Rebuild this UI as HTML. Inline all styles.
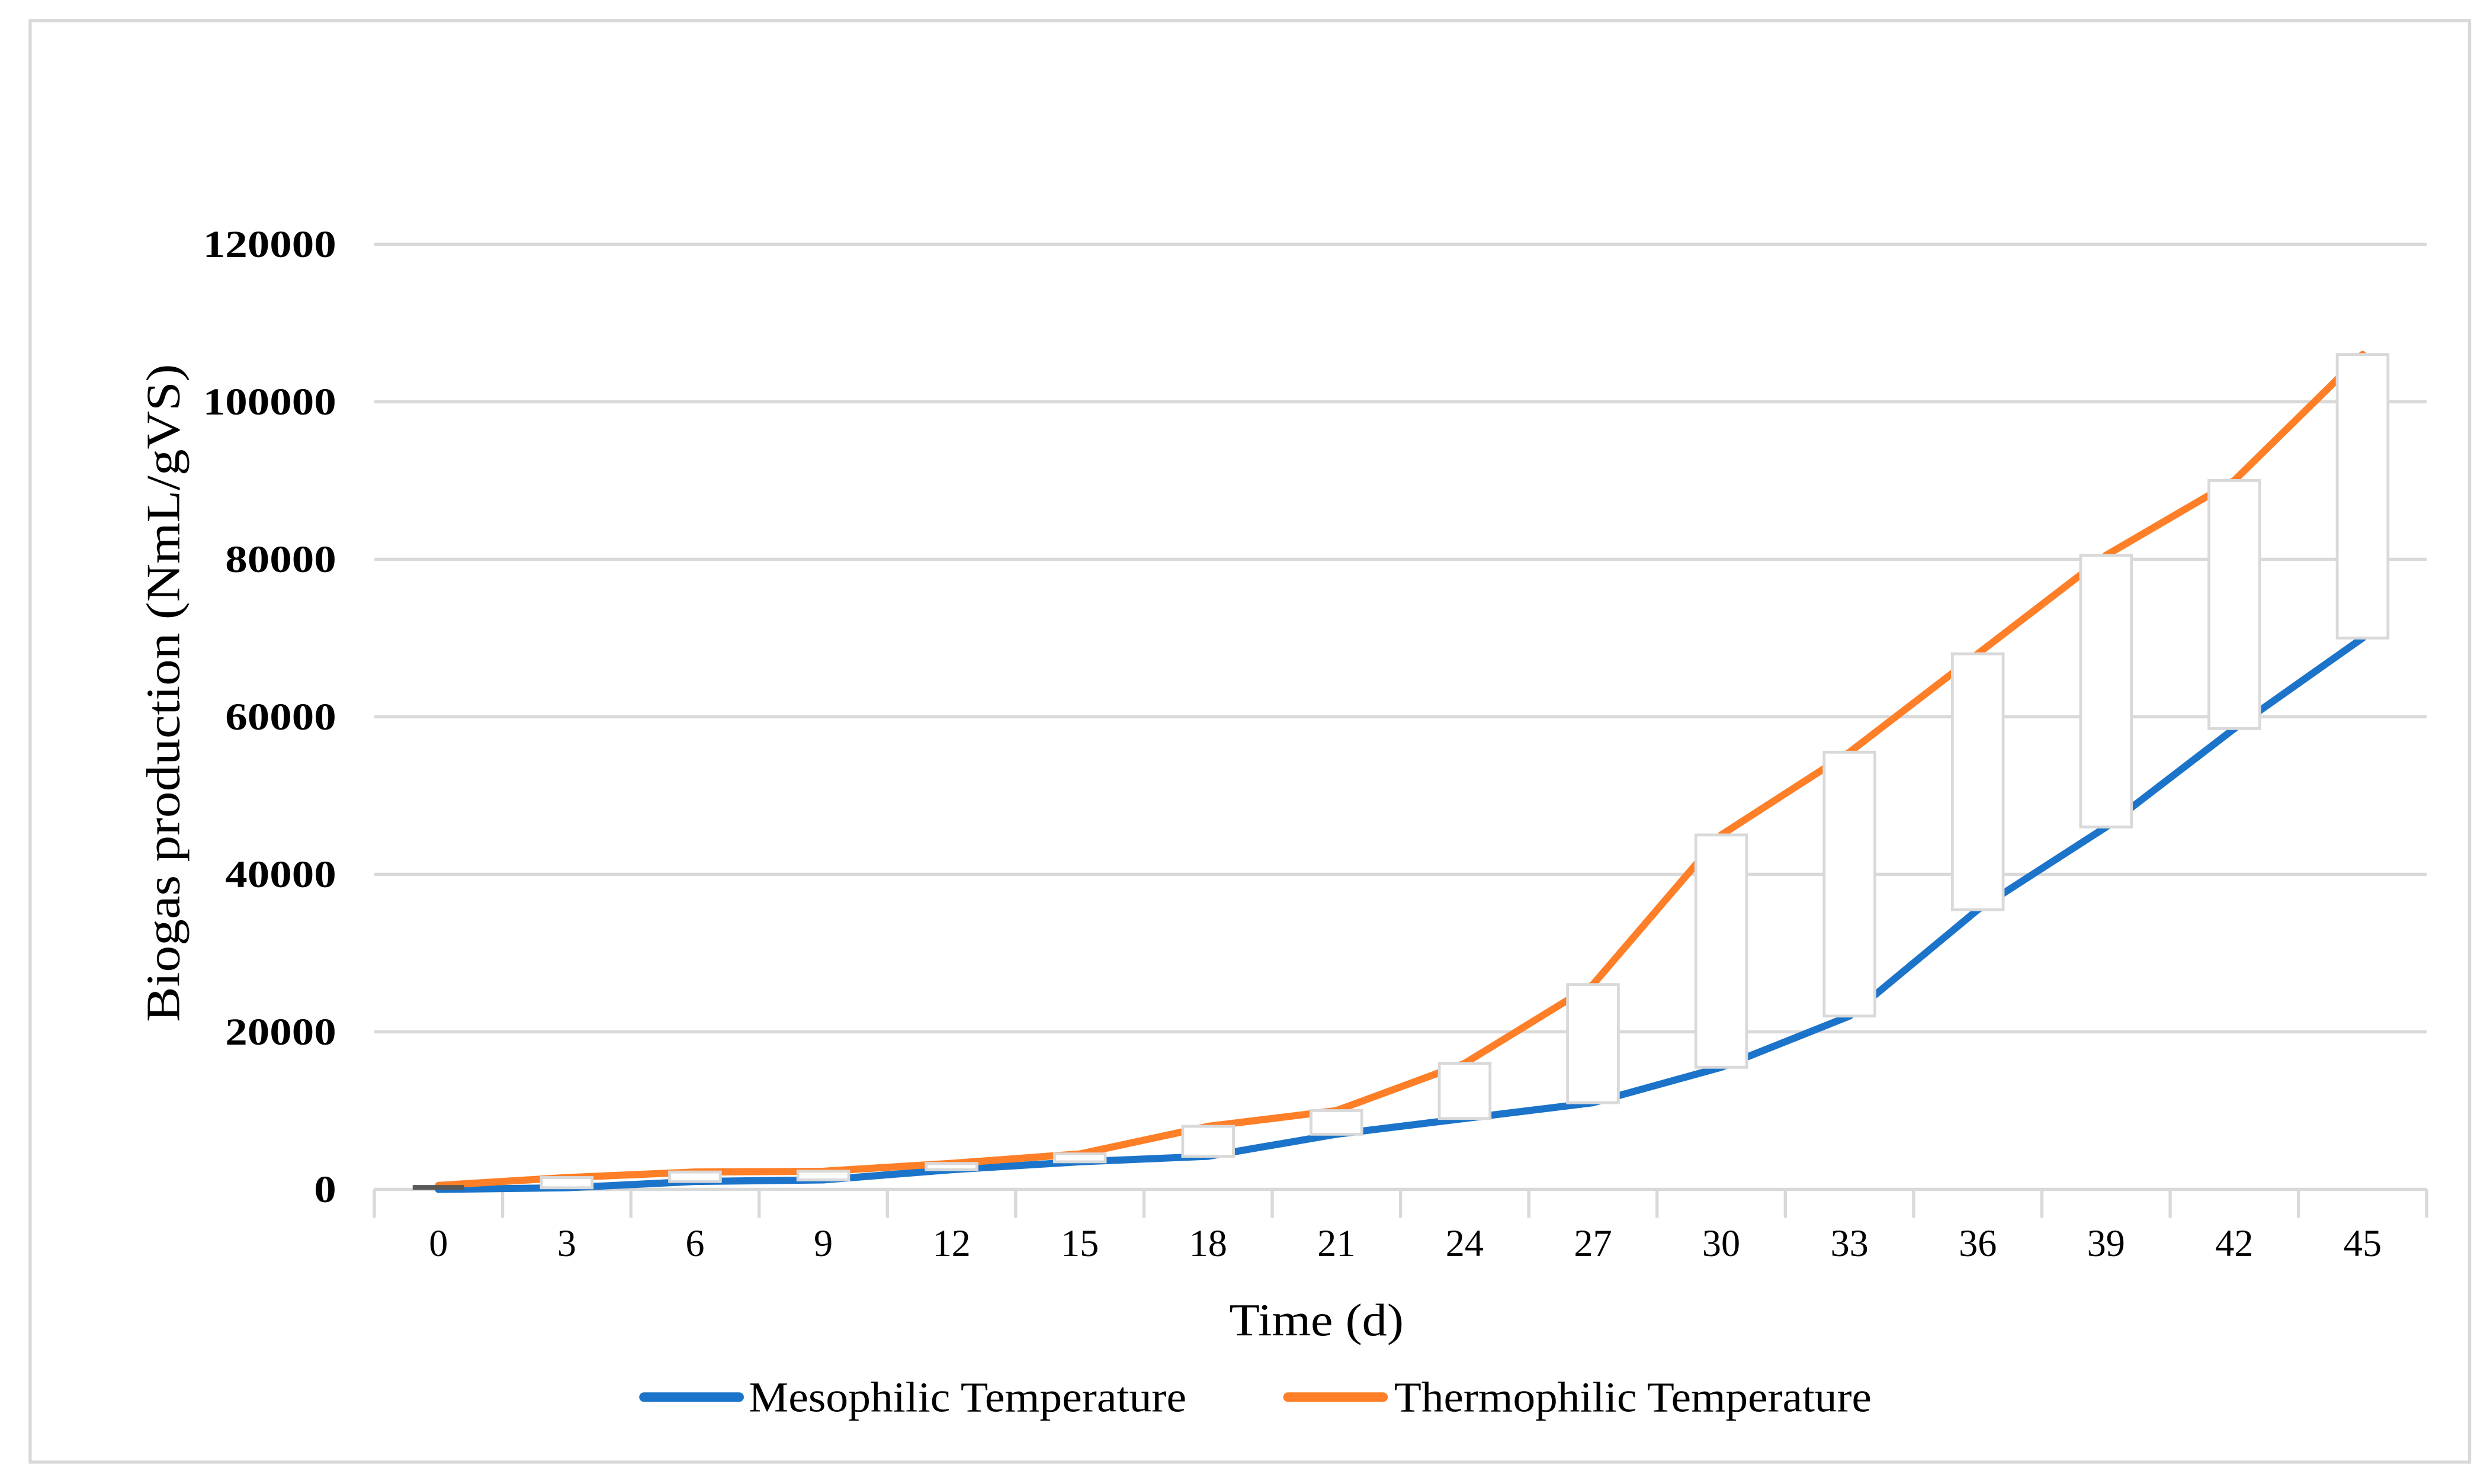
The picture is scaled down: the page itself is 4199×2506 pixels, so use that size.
<!DOCTYPE html>
<html><head><meta charset="utf-8"><style>
html,body{margin:0;padding:0;background:#fff;}
svg{display:block;}
text{font-family:"Liberation Serif",serif;fill:#000;}
</style></head><body>
<svg id="chart" width="4199" height="2506" viewBox="0 0 1568 935.8" xmlns="http://www.w3.org/2000/svg">
<rect x="19" y="13" width="1538" height="909" fill="#fff" stroke="#d9d9d9" stroke-width="2"/>
<g id="grid"></g>
<g id="axes"></g>
<g id="series"></g>
<g id="bars"></g>
<text transform="translate(113,437) rotate(-90)" text-anchor="middle" font-size="30" textLength="415" lengthAdjust="spacingAndGlyphs">Biogas production (NmL/gVS)</text>
<text x="830" y="842" text-anchor="middle" font-size="29" textLength="110" lengthAdjust="spacingAndGlyphs">Time (d)</text>
<g>
<g>
<line x1="406" y1="881" x2="466" y2="881" stroke="#1b74c9" stroke-width="6" stroke-linecap="round"/>
<text x="472" y="890" font-size="27" textLength="276" lengthAdjust="spacingAndGlyphs">Mesophilic Temperature</text></g>
<g>
<line x1="812" y1="881" x2="872" y2="881" stroke="#fe7f27" stroke-width="6" stroke-linecap="round"/>
<text x="879" y="890" font-size="27" textLength="301" lengthAdjust="spacingAndGlyphs">Thermophilic Temperature</text></g>
</g>
</svg>
<script>
const categories=[0,3,6,9,12,15,18,21,24,27,30,33,36,39,42,45];
const mesophilic=[0,200,1000,1200,2500,3500,4200,7000,9000,11000,15500,22000,35500,46000,58500,70000];
const thermophilic=[500,1500,2200,2300,3300,4500,8000,10000,16000,26000,45000,55500,68000,80500,90000,106000];
const yTicks=[0,20000,40000,60000,80000,100000,120000];
const NS="http://www.w3.org/2000/svg";
const L=236,R=1530,Y0=750,Y1=154,YMAX=120000;
const bw=(R-L)/categories.length;
function xs(i){return L+bw*(i+0.5);}
function ys(v){return Y0-(v/YMAX)*(Y0-Y1);}
function mk(t,a,p){const e=document.createElementNS(NS,t);for(const k in a)e.setAttribute(k,a[k]);p.appendChild(e);return e;}
const grid=document.getElementById('grid'),axes=document.getElementById('axes'),series=document.getElementById('series'),bars=document.getElementById('bars');
yTicks.forEach(v=>{
  if(v>0){const g=mk('line',{x1:L,x2:R,y1:ys(v),y2:ys(v),stroke:'#d9d9d9','stroke-width':2},grid);
  
  }
  const s=String(v);
  const t=mk('text',{x:212,y:ys(v)+8,'text-anchor':'end','font-size':24,'font-weight':'bold',textLength:14*s.length,lengthAdjust:'spacingAndGlyphs'},axes);
  t.textContent=s;
  
  
});
const ax=mk('line',{x1:L,x2:R,y1:Y0,y2:Y0,stroke:'#d9d9d9','stroke-width':2},axes);


for(let i=0;i<=categories.length;i++){
  const tk=mk('line',{x1:L+bw*i,x2:L+bw*i,y1:Y0,y2:Y0+18,stroke:'#d9d9d9','stroke-width':2},axes);
  
  
}
categories.forEach((c,i)=>{
  const t=mk('text',{x:xs(i),y:792,'text-anchor':'middle','font-size':24},axes);
  t.textContent=c;
  
  
});
function line(data,color,name){
  const p=mk('polyline',{points:data.map((v,i)=>xs(i)+','+ys(v)).join(' '),fill:'none',stroke:color,'stroke-width':4.5,'stroke-linejoin':'round','stroke-linecap':'round'},series);
  
  
}
line(mesophilic,'#1b74c9','mesophilic-line');
line(thermophilic,'#fe7f27','thermophilic-line');
categories.forEach((c,i)=>{
  const a=ys(thermophilic[i]),b=ys(mesophilic[i]);
  const top=Math.min(a,b),h=Math.max(Math.abs(b-a),2);
  const r=mk('rect',{x:xs(i)-16,y:top,width:32,height:h,fill:i===0?'#595959':'#fff',stroke:i===0?'#595959':'#d9d9d9','stroke-width':i===0?0.5:1.8},bars);
  
  
});
</script>
</body></html>
